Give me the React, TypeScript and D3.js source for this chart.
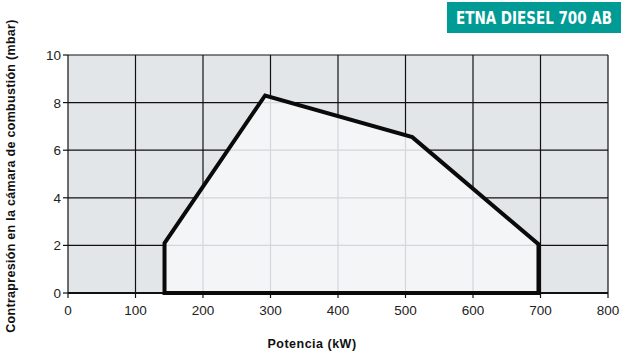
import React, { useEffect, useRef } from 'react';
import * as d3 from 'd3';

const title = 'ETNA DIESEL 700 AB';
const xLabel = 'Potencia (kW)';
const yLabel = 'Contrapresión en la cámara de combustión (mbar)';
const xTicks = [0, 100, 200, 300, 400, 500, 600, 700, 800];
const yTicks = [0, 2, 4, 6, 8, 10];
// working field outline (kW, mbar)
const fieldKw = [143, 143, 292, 510, 697, 697];
const fieldMbar = [0, 2.1, 8.3, 6.55, 2.05, 0];

export default function App() {
  const svgRef = useRef<SVGSVGElement>(null);

  useEffect(() => {
    if (!svgRef.current) return;
    const svg = d3.select(svgRef.current);
    svg.selectAll('*').remove();

    const left = 68, right = 608, top = 55, bottom = 293;
    const x = d3.scaleLinear().domain([0, 800]).range([left, right]);
    const y = d3.scaleLinear().domain([0, 10]).range([bottom, top]);
    const font = 'Helvetica, Arial, "Liberation Sans", sans-serif';

    // title box
    svg.append('rect')
      .attr('x', 447).attr('y', 2).attr('width', 174).attr('height', 31)
      .attr('fill', '#009b94');
    svg.append('text')
      .attr('x', 534).attr('y', 24)
      .attr('text-anchor', 'middle')
      .attr('fill', '#fff')
      .attr('font-family', '"Liberation Sans Narrow", "DejaVu Sans Condensed", Roboto, sans-serif')
      .attr('font-weight', 'bold')
      .attr('font-size', 17)
      .attr('textLength', 156)
      .attr('lengthAdjust', 'spacingAndGlyphs')
      .text(title);

    // plot background
    svg.append('rect')
      .attr('x', left).attr('y', top)
      .attr('width', right - left).attr('height', bottom - top)
      .attr('fill', '#e3e6e9');

    const pts: [number, number][] = fieldKw.map((k, i) => [x(k), y(fieldMbar[i])]);
    const line = d3.line().curve(d3.curveLinearClosed);

    const drawGrid = (g: any, color: string) => {
      g.selectAll('.v').data(xTicks).join('line')
        .attr('x1', (d: number) => x(d)).attr('x2', (d: number) => x(d))
        .attr('y1', top).attr('y2', bottom)
        .attr('stroke', color).attr('stroke-width', 1.2);
      g.selectAll('.h').data(yTicks).join('line')
        .attr('x1', left).attr('x2', right)
        .attr('y1', (d: number) => y(d)).attr('y2', (d: number) => y(d))
        .attr('stroke', color).attr('stroke-width', 1.2);
    };

    drawGrid(svg.append('g'), '#111');

    svg.append('clipPath').attr('id', 'field')
      .append('path').attr('d', line(pts));
    svg.append('path').attr('d', line(pts)).attr('fill', '#f4f5f7');
    const inner = svg.append('g').attr('clip-path', 'url(#field)');
    drawGrid(inner, '#d4d6d9');

    // axes ticks
    svg.append('g').selectAll('line').data(xTicks).join('line')
      .attr('x1', d => x(d)).attr('x2', d => x(d))
      .attr('y1', bottom).attr('y2', bottom + 5)
      .attr('stroke', '#111').attr('stroke-width', 1.2);
    svg.append('g').selectAll('line').data(yTicks).join('line')
      .attr('x1', left - 5).attr('x2', left)
      .attr('y1', d => y(d)).attr('y2', d => y(d))
      .attr('stroke', '#111').attr('stroke-width', 1.2);
    svg.append('line')
      .attr('x1', left).attr('x2', right).attr('y1', bottom).attr('y2', bottom)
      .attr('stroke', '#111').attr('stroke-width', 2);

    // field outline
    svg.append('path').attr('d', line(pts))
      .attr('fill', 'none').attr('stroke', '#0a0a0a')
      .attr('stroke-width', 4).attr('stroke-linejoin', 'miter');

    // tick labels
    svg.append('g').selectAll('text').data(xTicks).join('text')
      .attr('x', d => x(d)).attr('y', bottom + 22)
      .attr('text-anchor', 'middle')
      .attr('font-family', font).attr('font-size', 13.5).attr('fill', '#222')
      .text(d => d);
    svg.append('g').selectAll('text').data(yTicks).join('text')
      .attr('x', left - 7).attr('y', d => y(d) + 5)
      .attr('text-anchor', 'end')
      .attr('font-family', font).attr('font-size', 13.5).attr('fill', '#222')
      .text(d => d);

    // axis titles
    svg.append('text')
      .attr('x', 312).attr('y', 348)
      .attr('text-anchor', 'middle')
      .attr('font-family', font).attr('font-weight', 'bold').attr('font-size', 12.5)
      .attr('letter-spacing', 0.5)
      .attr('fill', '#111')
      .text(xLabel);
    svg.append('text')
      .attr('transform', `translate(15, ${176}) rotate(-90)`)
      .attr('text-anchor', 'middle')
      .attr('font-family', font).attr('font-weight', 'bold').attr('font-size', 12.5)
      .attr('letter-spacing', 0.3)
      .attr('fill', '#111')
      .text(yLabel);
  }, []);

  return (
    <svg ref={svgRef} width={638} height={356}
      style={{ position: 'absolute', left: 0, top: 0, background: '#fff' }} />
  );
}
